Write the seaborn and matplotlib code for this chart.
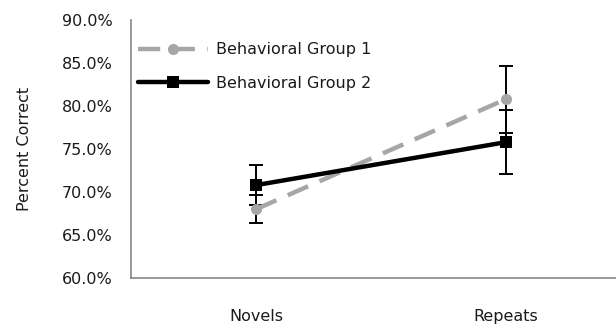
import numpy as np
import pandas as pd
import seaborn as sns
import matplotlib.pyplot as plt
from matplotlib.ticker import FuncFormatter, FixedLocator

categories = ['Novels', 'Repeats']
group1 = [68.0, 80.8]
group1_err = [1.6, 3.9]
group2 = [70.8, 75.8]
group2_err = [2.3, 3.7]
series_names = ['Behavioral Group 1', 'Behavioral Group 2']

pos = np.arange(len(categories))
df = pd.DataFrame({
    'pos': np.concatenate([pos, pos]),
    'value': group1 + group2,
    'group': [series_names[0]] * 2 + [series_names[1]] * 2,
})

sns.set_theme(style='white')
plt.rcParams['font.family'] = ['DejaVu Sans']

fig = plt.figure(figsize=(6.16, 3.28), dpi=100)
ax = fig.add_axes([0.2127, 0.1524, 0.7873, 0.7866])

gray = '#a6a6a6'
txt = '#1a1a1a'
fs = 11.5
# error bars first so lines sit on top
ax.errorbar(pos, group1, yerr=group1_err, fmt='none', ecolor='black',
            elinewidth=1.4, capsize=5, capthick=1.4, zorder=2)
ax.errorbar(pos, group2, yerr=group2_err, fmt='none', ecolor='black',
            elinewidth=1.4, capsize=5, capthick=1.4, zorder=2)

sns.lineplot(data=df, x='pos', y='value', hue='group', style='group',
             palette=[gray, 'black'], markers=['o', 's'],
             dashes=[(5, 2.8), ''], linewidth=3.2, markersize=8,
             markeredgewidth=0, ax=ax, legend=False, zorder=3)

ax.set_ylim(60, 90)
ax.set_yticks(np.arange(60, 90.1, 5))
ax.yaxis.set_major_formatter(FuncFormatter(lambda v, p: f'{v:.1f}%'))
ax.set_xlim(-0.5, 1.44)
ax.xaxis.set_major_locator(FixedLocator([-0.5, 0.5]))
ax.set_xticklabels([])
ax.xaxis.set_minor_locator(FixedLocator(pos))
ax.set_xticklabels(categories, minor=True)
ax.tick_params(axis='x', which='minor', length=0, pad=22, labelsize=fs, labelcolor=txt)
ax.tick_params(axis='x', which='major', direction='out', length=5, width=1, color='#868686')
ax.tick_params(axis='y', direction='out', length=5, width=1, color='#868686',
               labelsize=fs, labelcolor=txt, pad=8)
ax.set_xlabel('')
ax.set_ylabel('Percent Correct', fontsize=fs, color=txt)
ax.yaxis.set_label_coords(-0.205, 0.5)

for side in ['top', 'right']:
    ax.spines[side].set_visible(False)
for side in ['left', 'bottom']:
    ax.spines[side].set_color('#868686')
    ax.spines[side].set_linewidth(1.2)

h1 = plt.Line2D([], [], color=gray, linewidth=3.2, dashes=(5, 2.8),
                marker='o', markersize=8, markeredgewidth=0)
h2 = plt.Line2D([], [], color='black', linewidth=3.2,
                marker='s', markersize=8, markeredgewidth=0)
ax.legend([h1, h2], series_names, loc='upper left', bbox_to_anchor=(-0.005, 0.95),
          frameon=False, handlelength=4.4, fontsize=fs, labelspacing=1.15,
          borderaxespad=0.2, handletextpad=0.45, labelcolor=txt)

fig.savefig('out.png', dpi=100)
